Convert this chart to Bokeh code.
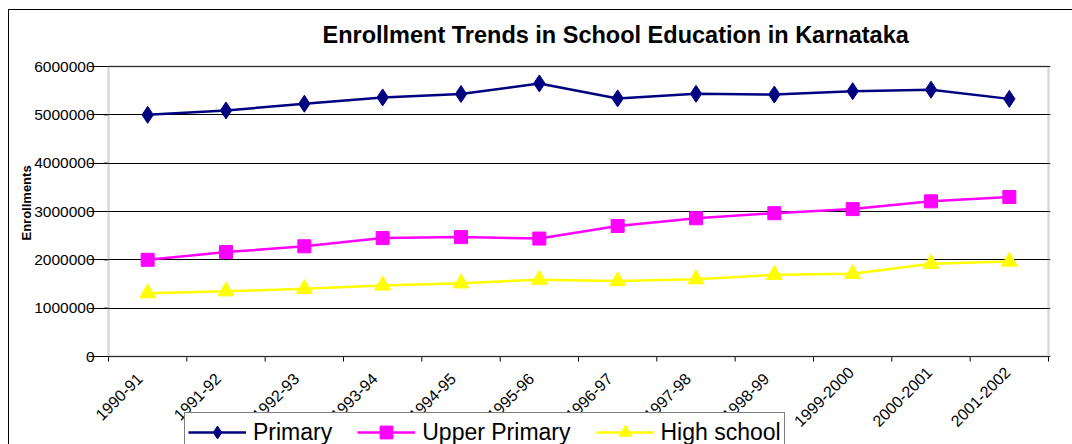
import numpy as np
from bokeh.plotting import figure
from bokeh.models import (Range1d, FixedTicker, NumeralTickFormatter, Legend, LegendItem,
                          Title, BoxAnnotation)
from bokeh.embed import file_html
from bokeh.resources import INLINE

years = ["1990-91", "1991-92", "1992-93", "1993-94", "1994-95", "1995-96",
         "1996-97", "1997-98", "1998-99", "1999-2000", "2000-2001", "2001-2002"]
primary = [5000000, 5090000, 5230000, 5360000, 5430000, 5650000,
           5340000, 5435000, 5420000, 5490000, 5520000, 5330000]
upper_primary = [2000000, 2160000, 2280000, 2450000, 2470000, 2440000,
                 2700000, 2860000, 2965000, 3050000, 3210000, 3300000]
high_school = [1310000, 1350000, 1400000, 1470000, 1515000, 1590000,
               1560000, 1600000, 1690000, 1710000, 1920000, 1965000]
y_ticks = [0, 1000000, 2000000, 3000000, 4000000, 5000000, 6000000]
title_text = "Enrollment Trends in School Education in Karnataka"
y_label = "Enrollments"

FONT = "Liberation Sans"

# layout (pixels)
W, H = 1072, 444
PL, PR, PT, PB = 108, 1048, 66, 356      # plot area
FL, FR, FT, FB = 88, 1050, 64, H         # frame (larger, extends to bottom)

n = len(years)
xc = np.arange(n) + 0.5
bounds = np.arange(n + 1)

x_per_px = n / (PR - PL)
y_lo_v, y_hi_v = y_ticks[0], y_ticks[-1]
y_per_px = (y_hi_v - y_lo_v) / (PB - PT)
x_range = Range1d(0 - (PL - FL) * x_per_px, n + (FR - PR) * x_per_px)
y_range = Range1d(y_lo_v - (FB - PB) * y_per_px, y_hi_v + (PT - FT) * y_per_px)

p = figure(width=W, height=H, output_backend="svg", toolbar_location=None,
           x_range=x_range, y_range=y_range, x_axis_location=None,
           min_border_left=FL, min_border_right=W - FR, min_border_top=FT, min_border_bottom=0)
p.background_fill_color = "white"
p.border_fill_color = None
p.styles = {"background": "linear-gradient(#000,#000) 8px 9px / 1px 100% no-repeat, "
                          "linear-gradient(#000,#000) 8px 9px / 100% 1px no-repeat, #ffffff"}
p.outline_line_color = None

# title
p.title.text = title_text
p.title.text_font = FONT
p.title.text_font_size = "23.5px"
p.title.text_font_style = "bold"
p.title.text_color = "black"
p.title.align = "left"
p.title.offset = 322 - FL
p.title.standoff = 34

# grids
p.xgrid.grid_line_color = None
p.ygrid.grid_line_color = "#000000"
p.ygrid.grid_line_width = 1

# y axis (labels end just left of the plot area)
ya = p.yaxis[0]
ya.ticker = FixedTicker(ticks=y_ticks)
ya.formatter = NumeralTickFormatter(format="0")
ya.major_label_text_font = FONT
ya.major_label_text_font_size = "15.5px"
ya.major_label_text_color = "black"
ya.major_tick_in = 0
ya.major_tick_out = 0
ya.minor_tick_line_color = None
ya.axis_line_color = None
ya.major_label_standoff = -(94 - FL)

# y axis title
p.add_layout(Title(text=y_label, align="left", offset=FB - 240, vertical_align="bottom",
                   standoff=-4, text_font=FONT, text_font_size="13px",
                   text_font_style="bold", text_color="black"), "left")

# plot-area border
p.add_layout(BoxAnnotation(left=0, right=n, bottom=y_lo_v, top=y_hi_v,
                           fill_color=None, line_color="#808080", line_width=2.5))

# y ticks at the left edge of the plot area
ytick_len = 5 * x_per_px
p.segment(x0=[0 - ytick_len] * len(y_ticks), y0=y_ticks, x1=[0] * len(y_ticks), y1=y_ticks,
          line_color="black", line_width=1)

# category axis: ticks between categories and rotated labels
tick_len = 5 * y_per_px
p.segment(x0=bounds, y0=[y_lo_v] * (n + 1), x1=bounds, y1=[y_lo_v - tick_len] * (n + 1),
          line_color="black", line_width=1)
p.text(x=xc, y=[y_lo_v] * n, text=years, angle=np.pi / 4,
       x_offset=-29, y_offset=40, text_align="center", text_baseline="middle",
       text_font={"value": FONT}, text_font_size={"value": "16px"}, text_color="black")

# series
l1 = p.line(xc, primary, line_color="#000080", line_width=2.5)
s1 = p.scatter(xc, primary, marker="diamond", size=17,
               fill_color="#000080", line_color="#000080")
l2 = p.line(xc, upper_primary, line_color="#FF00FF", line_width=2.5)
s2 = p.scatter(xc, upper_primary, marker="square", size=13,
               fill_color="#FF00FF", line_color="#FF00FF")
l3 = p.line(xc, high_school, line_color="#FFFF00", line_width=2.5)
s3 = p.scatter(xc, high_school, marker="triangle", size=16,
               fill_color="#FFFF00", line_color="#FFFF00")

legend = Legend(items=[
    LegendItem(label="Primary", renderers=[l1, s1]),
    LegendItem(label="Upper Primary", renderers=[l2, s2]),
    LegendItem(label="High school", renderers=[l3, s3]),
], orientation="horizontal", location=(184 - FL, -8))
legend.label_text_font = FONT
legend.label_text_font_size = "23px"
legend.label_text_color = "black"
legend.glyph_width = 58
legend.glyph_height = 32
legend.label_standoff = 7
legend.spacing = 25
legend.padding = 3
legend.margin = 0
legend.border_line_color = "black"
legend.border_line_width = 1
legend.background_fill_color = "white"
legend.background_fill_alpha = 1
p.add_layout(legend)

open("out.html", "w").write(file_html(p, INLINE))
